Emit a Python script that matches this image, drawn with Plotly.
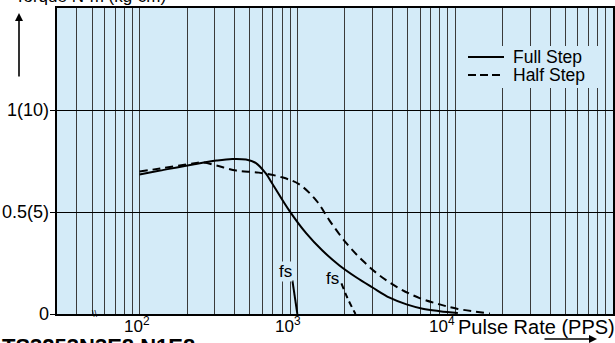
import math
import plotly.graph_objects as go

# ---- data ----
freq_full = [100, 135, 218, 307, 387, 473, 547, 631, 693, 889, 1140, 1441, 1848, 2370, 2995, 3840, 4920, 6220, 7980, 10400]
torque_full = [0.684, 0.703, 0.733, 0.752, 0.760, 0.757, 0.740, 0.689, 0.640, 0.507, 0.395, 0.311, 0.238, 0.179, 0.130, 0.080, 0.047, 0.026, 0.014, 0.005]

freq_half = [100, 135, 218, 251, 307, 410, 570, 800, 1030, 1320, 1600, 2050, 2590, 3320, 4440, 5950, 7980, 10400, 16600]
torque_half = [0.699, 0.713, 0.738, 0.743, 0.728, 0.703, 0.693, 0.670, 0.635, 0.556, 0.458, 0.346, 0.262, 0.189, 0.125, 0.078, 0.047, 0.025, 0.002]

fs_full_freq = [930, 1000]
fs_full_torque = [0.165, 0.0]
fs_half_freq = [1903, 2070, 2335]
fs_half_torque = [0.15, 0.081, 0.0]

grid_x = [40, 50, 60, 70, 80, 90, 100, 200, 300, 400, 500, 600, 700, 800, 900, 1000,
          2000, 3000, 4000, 5000, 6000, 7000, 8000, 9000, 10000,
          20000, 30000, 40000, 50000, 60000, 70000, 80000, 90000]
x_major = [100, 1000, 10000]
x_major_text = ["10<sup>2</sup>", "10<sup>3</sup>", "10<sup>4</sup>"]
y_ticks = [0, 0.5, 1.0]
y_tick_text = ["0", "0.5(5)", "1(10)"]
legend_names = ["Full Step", "Half Step"]

BG = "#d4ebf8"
FONT = "Liberation Sans, Arial, sans-serif"

L, R, T, B = 57, 2, 8, 29
W, H = 615, 343
PW, PH = W - L - R, H - T - B


def px(xp):
    return (xp - L) / PW


def py(yp):
    return (H - B - yp) / PH


fig = go.Figure()
fig.add_trace(go.Scatter(x=freq_full, y=torque_full, mode="lines", name=legend_names[0], showlegend=False,
                         line=dict(color="black", width=2, shape="spline", smoothing=1.0)))
fig.add_trace(go.Scatter(x=freq_half, y=torque_half, mode="lines", name=legend_names[1], showlegend=False,
                         line=dict(color="black", width=2, dash="8px,5px", shape="spline", smoothing=1.0)))
fig.add_trace(go.Scatter(x=fs_full_freq, y=fs_full_torque, mode="lines", showlegend=False,
                         line=dict(color="black", width=2)))
fig.add_trace(go.Scatter(x=fs_half_freq, y=fs_half_torque, mode="lines", showlegend=False,
                         line=dict(color="black", width=2, dash="6px,4px", shape="spline")))

fig.update_layout(
    width=W, height=H,
    margin=dict(l=L, r=R, t=T, b=B, autoexpand=False),
    paper_bgcolor="white", plot_bgcolor=BG,
    font=dict(family=FONT, size=18, color="black"),
    xaxis=dict(type="log", range=[math.log10(30), 5.0], tickvals=grid_x, showticklabels=False,
               showgrid=True, gridcolor="#3a3a3a", gridwidth=1, ticks="", automargin=False,
               showline=True, linecolor="black", linewidth=1.5, mirror=True, zeroline=False),
    yaxis=dict(range=[0, 1.5], tickvals=y_ticks, showticklabels=False, automargin=False,
               showgrid=True, gridcolor="black", gridwidth=1, ticks="outside", ticklen=5,
               tickcolor="black", showline=True, linecolor="black", linewidth=1.5, mirror=True,
               zeroline=False),
    showlegend=False,
)

shapes = []
# legend box (covers the gridlines)
shapes.append(dict(type="rect", xref="paper", yref="paper", x0=px(461), x1=px(601), y0=py(88), y1=py(46),
                   fillcolor=BG, line=dict(width=0), layer="above"))
shapes.append(dict(type="line", xref="paper", yref="paper", x0=px(468), x1=px(504), y0=py(57), y1=py(57),
                   line=dict(color="black", width=2), layer="above"))
shapes.append(dict(type="line", xref="paper", yref="paper", x0=px(468), x1=px(504), y0=py(75), y1=py(75),
                   line=dict(color="black", width=2, dash="8px,4px"), layer="above"))
fig.update_layout(shapes=shapes)

ann = []
for name, yy in zip(legend_names, [57, 75]):
    ann.append(dict(x=px(511), xref="paper", y=py(yy), yref="paper", text=name, showarrow=False,
                    xanchor="left", yanchor="middle", font=dict(size=17.5)))
# y tick labels
for v, t in zip(y_ticks, y_tick_text):
    ann.append(dict(x=px(51), xref="paper", y=v, yref="y", text=t, showarrow=False,
                    xanchor="right", yanchor="middle", font=dict(size=18)))
# x tick labels
shifts = [-3, -9]
for v, t, s in zip(x_major[:2], x_major_text[:2], shifts):
    ann.append(dict(x=math.log10(v), xref="x", y=py(325), yref="paper", text=t, showarrow=False,
                    xanchor="center", yanchor="middle", xshift=s, font=dict(size=17)))
ann.append(dict(x=math.log10(x_major[2]), xref="x", y=py(325), yref="paper", text=x_major_text[2],
                showarrow=False, xanchor="right", yanchor="middle", xshift=2, font=dict(size=17)))
ann.append(dict(x=math.log10(x_major[2]), xref="x", y=py(327), yref="paper", text="Pulse Rate (PPS)",
                showarrow=False, xanchor="left", yanchor="middle", xshift=1, font=dict(size=20)))
# fs labels
ann.append(dict(x=2.924, xref="x", y=0.208, yref="y", text="fs", showarrow=False,
                bgcolor=BG, borderpad=0, font=dict(size=17)))
ann.append(dict(x=3.222, xref="x", y=0.174, yref="y", text="fs", showarrow=False,
                bgcolor=BG, borderpad=0, font=dict(size=17)))
# top label
ann.append(dict(x=px(13), xref="paper", y=py(-3), yref="paper", text="Torque N·m (kg·cm)",
                showarrow=False, xanchor="left", yanchor="middle", font=dict(size=17)))
# y arrow
ann.append(dict(x=px(19), xref="paper", y=py(13), yref="paper", ax=0, ay=65,
                showarrow=True, arrowhead=2, arrowsize=1, arrowwidth=1.6, arrowcolor="black", text=""))
# x arrow
ann.append(dict(x=px(597), xref="paper", y=py(339), yref="paper", ax=-54, ay=0,
                showarrow=True, arrowhead=2, arrowsize=1, arrowwidth=1.6, arrowcolor="black", text=""))
# axis break mark
ann.append(dict(x=px(95), xref="paper", y=0.0, yref="paper", text="\\\\", showarrow=False,
                font=dict(size=9), xanchor="center", yanchor="middle"))
# bottom model label
ann.append(dict(x=px(0), xref="paper", y=py(346), yref="paper", text="<b>TS3253N3E8 N1E8</b>",
                showarrow=False, xanchor="left", yanchor="middle", font=dict(size=22)))
fig.update_layout(annotations=ann)

fig.write_html("out.html", config={"displayModeBar": False},
               post_script="document.body.style.margin='0px';document.body.style.overflow='hidden';")
